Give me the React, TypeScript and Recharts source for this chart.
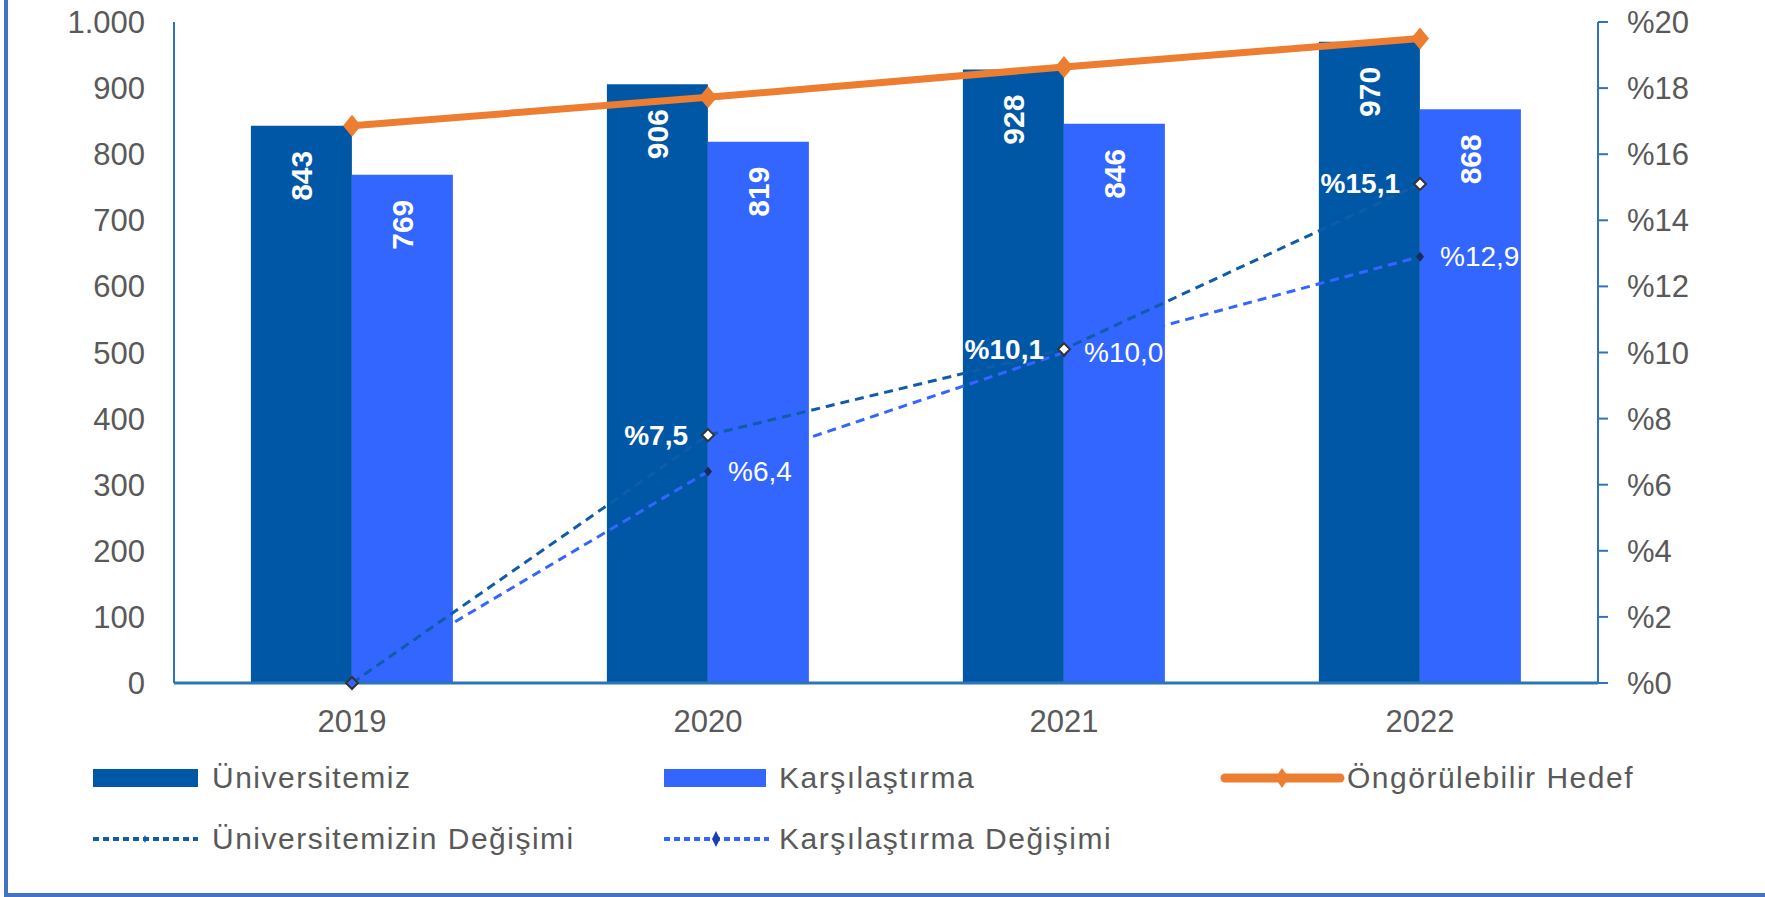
import React from "react";
import {
  Bar,
  ComposedChart,
  LabelList,
  Line,
  XAxis,
  YAxis,
} from "recharts";

const years = ["2019", "2020", "2021", "2022"];
const universitemiz = [843, 906, 928, 970];
const karsilastirma = [769, 819, 846, 868];
const hedef = [843, 886, 932, 975];
const uniDegisim = [0, 7.5, 10.1, 15.1];
const karDegisim = [0, 6.4, 10.0, 12.9];
const leftTicks = [0, 100, 200, 300, 400, 500, 600, 700, 800, 900, 1000];
const rightTicks = [0, 2, 4, 6, 8, 10, 12, 14, 16, 18, 20];

const FONT = "'Liberation Sans', Arial, sans-serif";
const DARK = "#0057A6";
const LIGHT = "#3366FF";
const ORANGE = "#ED7D31";
const DARK_DASH = "#0F5CA8";
const AXIS = "#2E75B6";
const GREY = "#595959";

const data = years.map((year, i) => ({
  year,
  universitemiz: universitemiz[i],
  karsilastirma: karsilastirma[i],
  hedef: hedef[i],
  uniDegisim: uniDegisim[i],
  karDegisim: karDegisim[i],
}));

const fmtLeft = (v: number) =>
  v >= 1000 ? `${Math.floor(v / 1000)}.${String(v % 1000).padStart(3, "0")}` : String(v);
const fmtPct = (v: number) => "%" + v.toFixed(1).replace(".", ",");

const BarValue = (props: any) => {
  const { x, y, width, value } = props;
  const cx = x + width / 2;
  const ty = y + 25;
  return (
    <text
      x={cx}
      y={ty}
      transform={`rotate(-90, ${cx}, ${ty})`}
      textAnchor="end"
      dominantBaseline="central"
      fill="#fff"
      fontWeight="bold"
      fontSize={30}
      fontFamily={FONT}
    >
      {value}
    </text>
  );
};

const UniLabel = (props: any) => {
  const { x, y, value } = props;
  if (!value) return null;
  return (
    <text
      x={x - 20}
      y={y}
      textAnchor="end"
      dominantBaseline="central"
      fill="#fff"
      fontWeight="bold"
      fontSize={28}
      fontFamily={FONT}
    >
      {fmtPct(value)}
    </text>
  );
};

const KarLabel = (props: any) => {
  const { x, y, value } = props;
  if (!value) return null;
  return (
    <text
      x={x + 20}
      y={y}
      textAnchor="start"
      dominantBaseline="central"
      fill="#fff"
      fontSize={28}
      fontFamily={FONT}
    >
      {fmtPct(value)}
    </text>
  );
};

const diamond = (cx: number, cy: number, rx: number, ry: number) =>
  `M${cx},${cy - ry} L${cx + rx},${cy} L${cx},${cy + ry} L${cx - rx},${cy} Z`;

const OrangeDot = (p: any) => (
  <path key={`o${p.index}`} d={diamond(p.cx, p.cy, 9, 11)} fill={ORANGE} />
);
const UniDot = (p: any) => (
  <path
    key={`u${p.index}`}
    d={diamond(p.cx, p.cy, 6, 6)}
    fill={p.value ? "#fff" : LIGHT}
    stroke="#333"
    strokeWidth={2}
  />
);
const KarDot = (p: any) => (
  <path key={`k${p.index}`} d={diamond(p.cx, p.cy, 4, 5)} fill="#1B2A5C" />
);

const legendText: React.CSSProperties = {
  position: "absolute",
  fontFamily: FONT,
  fontSize: 30,
  letterSpacing: 1.5,
  color: GREY,
  lineHeight: "34px",
  whiteSpace: "nowrap",
};

const LegendBox = () => (
  <div style={{ position: "absolute", left: 0, top: 0 }}>
    <div style={{ position: "absolute", left: 93, top: 769, width: 105, height: 18, background: DARK }} />
    <div style={{ ...legendText, left: 212, top: 761 }}>Üniversitemiz</div>
    <div style={{ position: "absolute", left: 664, top: 769, width: 102, height: 18, background: LIGHT }} />
    <div style={{ ...legendText, left: 779, top: 761 }}>Karşılaştırma</div>
    <svg style={{ position: "absolute", left: 1220, top: 765 }} width={125} height={26}>
      <line x1={5} y1={13} x2={120} y2={13} stroke={ORANGE} strokeWidth={9} strokeLinecap="round" />
      <path d={diamond(62, 13, 7, 10)} fill={ORANGE} />
    </svg>
    <div style={{ ...legendText, left: 1347, top: 761 }}>Öngörülebilir Hedef</div>
    <svg style={{ position: "absolute", left: 90, top: 827 }} width={112} height={24}>
      <line x1={3} y1={12} x2={108} y2={12} stroke={DARK_DASH} strokeWidth={4} strokeDasharray="6 4" />
      <path d={diamond(55, 12, 2, 4)} fill={DARK_DASH} />
    </svg>
    <div style={{ ...legendText, left: 212, top: 822 }}>Üniversitemizin Değişimi</div>
    <svg style={{ position: "absolute", left: 661, top: 827 }} width={112} height={24}>
      <line x1={3} y1={12} x2={108} y2={12} stroke={LIGHT} strokeWidth={4} strokeDasharray="6 4" />
      <path d={diamond(55, 12, 4, 8)} fill="#1B3FB0" />
    </svg>
    <div style={{ ...legendText, left: 779, top: 822 }}>Karşılaştırma Değişimi</div>
  </div>
);

const App = () => {
  return (
    <div
      style={{
        position: "absolute",
        left: 0,
        top: 0,
        width: 1765,
        height: 897,
        overflow: "hidden",
        background: "#fff",
      }}
    >
      <div
        style={{
          position: "absolute",
          left: 4,
          top: -10,
          width: 1780,
          height: 907,
          boxSizing: "border-box",
          border: "4px solid #4472C4",
        }}
      />
      <ComposedChart
        width={1765}
        height={897}
        data={data}
        margin={{ top: 22, right: 47, left: 54, bottom: 154 }}
        barCategoryGap="21.6%"
        barGap={0}
        style={{ position: "absolute", left: 0, top: 0 }}
      >
        <XAxis
          dataKey="year"
          height={60}
          axisLine={{ stroke: AXIS, strokeWidth: 3 }}
          tickLine={false}
          tickSize={6}
          tickMargin={21}
          tick={{ fill: GREY, fontSize: 31, fontFamily: FONT }}
        />
        <YAxis
          yAxisId="left"
          width={120}
          domain={[0, 1000]}
          ticks={leftTicks}
          tickFormatter={fmtLeft}
          axisLine={{ stroke: AXIS, strokeWidth: 2 }}
          tickLine={false}
          tickSize={8}
          tickMargin={21}
          tick={{ fill: GREY, fontSize: 31, fontFamily: FONT }}
          interval={0}
        />
        <YAxis
          yAxisId="right"
          orientation="right"
          width={120}
          domain={[0, 20]}
          ticks={rightTicks}
          tickFormatter={(v: number) => "%" + v}
          axisLine={{ stroke: AXIS, strokeWidth: 2 }}
          tickLine={{ stroke: AXIS, strokeWidth: 2 }}
          tickSize={10}
          tickMargin={19}
          tick={{ fill: GREY, fontSize: 31, fontFamily: FONT }}
          interval={0}
        />
        <Bar yAxisId="left" dataKey="universitemiz" fill={DARK} isAnimationActive={false}>
          <LabelList dataKey="universitemiz" content={BarValue} />
        </Bar>
        <Bar yAxisId="left" dataKey="karsilastirma" fill={LIGHT} isAnimationActive={false}>
          <LabelList dataKey="karsilastirma" content={BarValue} />
        </Bar>
        <Line
          yAxisId="right"
          dataKey="karDegisim"
          stroke={LIGHT}
          strokeWidth={3}
          strokeDasharray="9 6"
          dot={KarDot}
          activeDot={false}
          isAnimationActive={false}
        >
          <LabelList dataKey="karDegisim" content={KarLabel} />
        </Line>
        <Line
          yAxisId="right"
          dataKey="uniDegisim"
          stroke={DARK_DASH}
          strokeWidth={3}
          strokeDasharray="9 6"
          dot={UniDot}
          activeDot={false}
          isAnimationActive={false}
        >
          <LabelList dataKey="uniDegisim" content={UniLabel} />
        </Line>
        <Line
          yAxisId="left"
          dataKey="hedef"
          stroke={ORANGE}
          strokeWidth={7}
          dot={OrangeDot}
          activeDot={false}
          isAnimationActive={false}
        />
      </ComposedChart>
      <LegendBox />
    </div>
  );
};

export default App;
